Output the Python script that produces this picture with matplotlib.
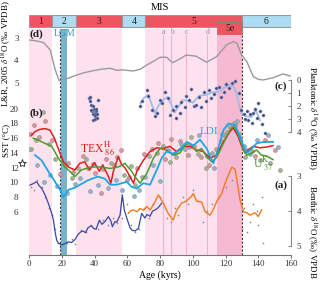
import matplotlib
matplotlib.use("Agg")
import matplotlib.pyplot as plt

plt.rcParams['font.family'] = ['Liberation Serif', 'DejaVu Serif']
plt.rcParams['mathtext.fontset'] = 'stix'

# ---- data ----
mis_labels = ["1", "2", "3", "4", "5", "6"]
mis_start = [0, 14, 29, 57, 71, 130]
mis_end = [14, 29, 57, 71, 130, 160]
substages = ["a", "b", "c", "d"]
substage_age = [82, 87, 96, 109]

# (d) Lisiecki & Raymo 2005 stack
lr_age = [0, 5, 9, 13, 16, 18.5, 20, 24, 29, 34, 39, 44, 49.5, 54, 57.5, 63.5, 68, 72, 76, 80,
          84, 87.7, 92, 96, 102, 108.5, 114.6, 118, 120.7, 124.8, 127, 129.8, 133, 137, 140, 143,
          149, 155, 159.5]
lr_d18o = [3.1, 3.15, 3.22, 3.55, 4.43, 4.92, 4.88, 4.8, 4.66, 4.55, 4.47, 4.4, 4.36, 4.45, 4.43,
           4.48, 4.4, 4.21, 4.05, 3.87, 3.87, 4.11, 3.95, 3.77, 3.82, 4.09, 3.84, 3.55, 3.32, 3.17,
           3.25, 3.77, 4.06, 4.73, 4.85, 4.88, 4.78, 4.61, 4.7]

# (c) planktonic d18O
pl_age = [68, 70, 73, 75, 77, 79, 81, 84.5, 87, 89, 91, 94, 97, 100, 104, 108, 112, 116, 119,
          121.5, 123.5, 125.5, 127, 128.5, 130, 131.5, 133, 136, 138.5, 141]
pl_line = [1.8, 1.4, 1.15, 1.9, 2.55, 2.0, 1.65, 1.3, 1.9, 2.5, 2.1, 1.55, 1.6, 1.75, 1.2, 1.15,
           0.95, 0.9, 0.6, 0.45, 0.4, 0.6, 1.2, 2.05, 2.55, 2.7, 2.8, 2.85, 2.3, 3.1]
pd_age = [36.5, 37, 37.5, 38, 38.5, 39, 39.2, 39.6, 40, 40.2, 40.4, 40.6, 40.8, 41, 41.3, 41.5,
          42, 38.8, 37.8,
          68, 69, 72, 72.5, 75, 77, 78, 80, 81, 83, 85, 86, 88, 89.5, 90, 92, 93, 95, 96, 98, 99,
          101, 102, 104, 105, 107, 108, 110, 111, 113, 114, 116, 117, 119, 120, 122, 124, 126,
          128, 129.5, 131, 132, 133, 134, 135, 136, 137, 138, 139, 140, 141, 142, 143, 144]
pd_val = [1.4, 1.3, 1.6, 1.9, 2.4, 2.6, 3.1, 2.2, 2.5, 3.0, 2.8, 2.7, 2.4, 2.2, 2.9, 2.6, 1.5,
          2.0, 2.3,
          2.0, 1.6, 0.8, 1.2, 2.3, 2.8, 2.5, 1.5, 1.8, 0.9, 1.4, 2.7, 2.3, 2.9, 2.0, 2.5, 1.7,
          2.1, 1.2, 1.5, 0.7, 2.0, 1.9, 1.3, 2.1, 0.9, 1.6, 0.8, 1.4, 1.1, 0.6, 0.5, 1.3, 0.9,
          0.3, 0.6, 0.2, 0.1, 1.0, 2.3, 2.6, 3.0, 2.4, 3.1, 2.6, 3.3, 2.5, 2.2, 2.9, 1.8, 2.4,
          3.4, 2.7, 4.1]

# (b) SST proxies
tex_age = [1.5, 3.7, 6.5, 9.8, 12.8, 15.5, 17.9, 21, 24, 28, 31, 34, 37, 40, 43, 45, 48.5, 50,
           51.5, 54.5, 56.6, 58.6, 61.7, 63.8, 65.8, 69.8, 73.9, 78, 82, 86, 90.2, 94.2, 98.3,
           102.3, 106.4, 110.5, 114.6, 118.7, 120.7, 122.7, 124.8, 127.8, 129.9, 131.9, 135, 137,
           141, 145, 149]
tex_sst = [16.4, 16.9, 17.2, 17.3, 17.1, 16.0, 14.6, 12.8, 12.1, 11.7, 12.6, 12.8, 11.7, 12.7,
           11.5, 12.4, 10.8, 9.9, 11.5, 13.5, 12.4, 12.0, 10.8, 9.9, 11.5, 13.0, 14.2, 14.7, 14.6,
           14.9, 14.2, 14.9, 14.9, 14.4, 14.2, 13.3, 13.7, 15.5, 16.2, 16.9, 17.4, 16.2, 14.9,
           14.0, 14.6, 14.9, 14.7, 14.8, 15.0]
uk_age = [2.6, 6, 9.8, 13.9, 17.9, 22, 25, 28, 32, 38, 44.3, 49.5, 54.5, 58.6, 62.7, 64.7, 67.8,
          71.9, 76, 80, 84, 88, 92.2, 95.3, 98.3, 102.3, 105.4, 108.5, 111.6, 114.6, 118.7,
          122.7, 124.8, 126.8, 128.9, 131, 133, 136, 139, 142, 145, 149]
uk_sst = [16.0, 15.7, 15.3, 14.9, 13.3, 12.1, 11.5, 10.8, 11.7, 12.1, 12.1, 11.9, 12.1, 12.6,
          11.5, 10.8, 9.9, 11.2, 13.3, 14.6, 14.4, 13.7, 14.0, 15.1, 15.3, 14.2, 14.6, 13.5, 12.8,
          13.4, 15.3, 17.1, 17.6, 17.0, 15.8, 14.4, 13.7, 14.0, 14.4, 13.7, 13.6, 13.1]
ldi_age = [3.7, 7.7, 11.8, 15.9, 19, 21, 24, 28, 32, 36, 42, 46.4, 49.5, 53.6, 56.6, 59.7, 62.7,
           65.8, 69.8, 73.9, 78, 81, 84, 88, 92.2, 96.3, 100.4, 104.4, 108.5, 112.6, 115.6,
           118.7, 121.8, 125.8, 128.9, 131, 133, 136, 139, 143, 149]
ldi_sst = [13.7, 13.0, 11.5, 10.1, 9.0, 8.0, 9.0, 9.3, 9.8, 10.3, 10.8, 10.5, 9.7, 9.7, 9.9,
           10.1, 9.4, 9.2, 9.9, 9.7, 11.7, 13.3, 14.2, 13.9, 14.4, 15.5, 15.0, 15.8, 14.6, 12.6,
           14.6, 17.1, 18.0, 17.8, 16.2, 14.9, 14.0, 14.6, 15.3, 15.5, 15.5]

tex_dot_age = [0.5, 3, 6, 10, 14, 19, 24, 27, 33, 36, 40, 44, 47, 52, 56, 60, 66, 70, 75, 79,
               83, 87, 92, 97, 101, 105, 110, 114, 119, 123, 126, 129, 133, 138, 144, 150]
tex_dot = [16.6, 17.8, 16.2, 18.3, 15.8, 11.2, 12.6, 11.4, 13.6, 12.0, 11.3, 8.6, 13.2, 12.4,
           14.4, 10.4, 12.0, 13.8, 14.6, 15.4, 13.2, 15.9, 15.6, 13.7, 15.0, 13.5, 12.4, 14.6,
           16.4, 17.5, 17.8, 16.0, 14.4, 13.6, 15.7, 14.4]
uk_dot_age = [1, 4, 8.5, 12, 16, 22, 26, 30, 35, 39, 45, 50, 54, 58, 62, 65, 69, 73, 78, 82,
              86, 90, 95, 99, 103, 108, 112, 117, 121, 125, 128, 132, 136, 141, 147, 153]
uk_dot = [14.6, 15.8, 19.6, 15.2, 13.2, 12.4, 10.6, 11.9, 13.2, 12.5, 11.8, 12.6, 13.4, 11.0,
          12.2, 9.6, 10.8, 13.6, 14.0, 15.0, 12.8, 13.4, 14.6, 16.2, 13.8, 12.0, 14.0, 15.6,
          16.8, 18.0, 16.6, 13.5, 14.2, 13.0, 12.7, 11.7]
ldi_dot_age = [0, 5, 9, 13, 17, 20, 23, 28, 31, 37, 42, 48, 53, 57, 61, 64, 67, 71, 76, 80,
               85, 89, 93, 98, 104, 109, 113, 118, 122, 127, 131, 135, 139, 146, 152]
ldi_dot = [14.5, 12.4, 10.0, 11.0, 9.5, 7.6, 8.6, 9.8, 10.6, 8.8, 9.6, 9.2, 10.4, 9.0, 10.8,
           8.2, 9.0, 10.8, 12.4, 10.2, 14.4, 14.0, 15.2, 14.8, 16.4, 13.6, 12.0, 16.6, 17.8,
           18.4, 15.0, 13.8, 15.8, 16.4, 14.8]
core_top_age, core_top_sst = [-4.5], [12.7]

# (a) benthic d18O
bb_age = [0.6, 2.5, 4.7, 6.2, 7.7, 9.8, 11.8, 13.9, 14.9, 15.9, 16.9, 17.9, 20, 22, 24, 26, 28,
          30, 31.5, 33, 34.5, 36, 38, 39.5, 41, 43, 44.5, 46.4, 48.5, 50, 50.9, 52.5, 53.6,
          55.6, 57, 58.2, 59.7, 61.7, 63, 64.7, 66.8, 68.8, 70.8, 72, 73.9, 75.5, 77, 79, 81]
bb_d18o = [3.26, 3.22, 3.16, 3.28, 3.35, 3.54, 3.78, 4.07, 4.26, 4.59, 4.83, 4.92, 4.97, 4.93,
           4.88, 4.9, 4.82, 4.67, 4.6, 4.57, 4.62, 4.48, 4.42, 4.5, 4.52, 4.26, 4.38, 4.3, 4.16,
           4.28, 4.45, 4.3, 4.32, 4.12, 3.54, 3.97, 4.2, 4.48, 4.55, 4.57, 4.5, 4.07, 4.2, 4.1,
           4.15, 4.0, 3.97, 3.9, 3.78]
or_age = [60.6, 62, 63.7, 66, 67.8, 70, 71.9, 74, 77, 79, 82, 85, 88, 90, 93, 96, 99, 100.4,
          102.3, 105.4, 107.5, 110.5, 112.6, 114.6, 117.7, 119.7, 121.8, 123.8, 125.8, 127.3,
          128.9, 131, 133, 135, 138, 140, 142]
or_d18o = [4.07, 4.0, 3.97, 4.02, 3.93, 3.98, 3.87, 3.97, 3.73, 3.54, 3.78, 4.07, 4.26, 4.0,
           3.78, 3.72, 3.59, 3.5, 3.72, 3.74, 4.02, 4.12, 3.95, 3.73, 3.5, 3.21, 2.97, 2.75, 2.8,
           3.21, 3.69, 4.02, 4.05, 4.12, 4.05, 4.16, 3.97]
bd_age = [1, 3, 5, 8, 10, 12, 14, 16, 18, 19.5, 21, 23, 26, 28, 32, 35, 38, 42, 45, 48, 51, 54,
          57, 60, 62, 65, 67, 70, 73, 76, 80, 84, 87, 89, 91, 94, 97, 100, 103, 106, 109, 112,
          116, 120, 124, 130, 131, 133, 135, 137, 139, 140, 142, 143]
bd_val = [3.3, 3.4, 3.1, 3.3, 3.6, 3.9, 4.1, 4.5, 4.9, 5.05, 4.95, 4.9, 4.8, 4.95, 4.55, 4.6,
          4.4, 4.5, 4.25, 4.4, 4.2, 4.35, 4.2, 3.8, 4.4, 4.6, 4.5, 3.9, 4.2, 3.8, 3.6, 4.2, 4.3,
          3.9, 4.1, 3.6, 3.8, 3.4, 3.7, 4.3, 4.0, 3.8, 3.6, 3.3, 3.1, 4.5, 3.9, 4.6, 4.3, 3.8,
          4.0, 4.4, 3.6, 4.9]

# ---- layout (pixels of the 320x283 output) ----
W, H = 320, 283
X0, X1 = 29, 291
Y0, Y1 = 29, 255

fig = plt.figure(figsize=(3.2, 2.83), dpi=100)


def px_axes(y_top, y_bot):
    return fig.add_axes([X0 / W, 1 - y_bot / H, (X1 - X0) / W, (y_bot - y_top) / H])


def ftext(px, py, s, **kw):
    return fig.text(px / W, 1 - py / H, s, **kw)


def panel(va, pa, vb, pb):
    """Transparent overlay axes where value va sits at pixel row pa and vb at pb."""
    ax = px_axes(Y0, Y1)
    k = (vb - va) / (pb - pa)
    ax.set_ylim(va + (Y1 - pa) * k, va + (Y0 - pa) * k)
    ax.set_xlim(0, 160)
    ax.patch.set_visible(False)
    for s in ax.spines.values():
        s.set_visible(False)
    ax.set_xticks([])
    ax.tick_params(labelsize=6.5, colors="#444", labelcolor="#333")
    return ax


PINK, PINK_DARK = "#fde2ed", "#f6b9d2"
RED_BOX, BLUE_BOX = "#ef5560", "#aedcf3"

# background axes
ax0 = px_axes(Y0, Y1)
ax0.set_xlim(0, 160)
ax0.set_ylim(0, 1)
for s in ["top", "left", "right"]:
    ax0.spines[s].set_visible(False)
ax0.spines["bottom"].set_color("#777")
ax0.set_yticks([])
ax0.set_xticks(range(0, 161, 20))
ax0.tick_params(axis="x", labelsize=6.5, length=2, pad=1.5, colors="#777", labelcolor="#333")
ax0.set_xlabel("Age (kyrs)", fontsize=7, labelpad=2)

top_5e = (Y1 - 35) / (Y1 - Y0)
for lab, a, b in zip(mis_labels, mis_start, mis_end):
    if lab in ("1", "3", "5"):
        ax0.axvspan(a, b, color=PINK, lw=0)
ax0.axvspan(115, 130, ymax=top_5e, color=PINK_DARK, lw=0)
for lab, a in zip(substages, substage_age):
    ax0.axvline(a, ymax=top_5e, color="#f3a7c6", lw=0.6)
    ax0.text(a, 1 - 3 / (Y1 - Y0), lab, transform=ax0.get_xaxis_transform(), ha="center",
             va="center", fontsize=5.5, color="#9a8a90")
ax0.axvspan(19.5, 23, color="#78b3cb", lw=0)
ax0.axvline(19, color="#333", lw=0.8, ls=(0, (2, 1.5)))
ax0.axvline(130, ymax=(Y1 - 27) / (Y1 - Y0), color="#333", lw=0.8, ls=(0, (2, 1.5)),
            clip_on=False)
ax0.text(21.7, 1 - 5 / (Y1 - Y0), "LGM", transform=ax0.get_xaxis_transform(), ha="center",
         va="center", fontsize=7, color="#3d93c4")

# MIS bar
axm = fig.add_axes([X0 / W, 1 - 35.2 / H, (X1 - X0) / W, 20.5 / H])
axm.set_xlim(0, 160)
axm.set_ylim(20.5, 0)
axm.axis("off")
for lab, a, b in zip(mis_labels, mis_start, mis_end):
    col = RED_BOX if lab in ("1", "3", "5") else BLUE_BOX
    axm.bar(a, 12.6, width=b - a, bottom=0, align="edge", color=col, edgecolor="#999", lw=0.8)
    axm.text((a + b) / 2, 6.5, lab, ha="center", va="center", fontsize=7, color="#222")
axm.bar(115, 12.8, width=15, bottom=7.4, align="edge", color=RED_BOX, edgecolor="#888", lw=0.8)
axm.text(122.5, 14, "5e", ha="center", va="center", fontsize=7, color="#222")
ftext(160, 7, "MIS", ha="center", va="center", fontsize=7.5)

# (d) L&R stack
ax_d = panel(3, 37.7, 5, 82.7)
ax_d.plot(lr_age, lr_d18o, color="#9a9a9a", lw=1.0)
ax_d.set_yticks([3, 4, 5])
ax_d.tick_params(axis="y", length=0, pad=7.5)

# (c) planktonic
ax_c = panel(0, 80, 4, 132)
ax_c.plot(pl_age, pl_line, color="#a3bbe6", lw=1.3, zorder=2)
ax_c.scatter(pd_age, pd_val, s=5, c="#3a4680", edgecolors="#8a98c0", linewidths=0.4, zorder=3)
ax_c.yaxis.tick_right()
ax_c.set_yticks([0, 1, 2, 3, 4])
ax_c.spines["right"].set_visible(True)
ax_c.spines["right"].set_bounds(0, 4)
ax_c.spines["right"].set_color("#888")
ax_c.tick_params(axis="y", direction="in", length=2, pad=4, colors="#888", labelcolor="#333")

# (b) SST
ax_b = panel(20, 108.7, 6, 212)
dot_fc = "#b8a6ae"
ax_b.scatter(tex_dot_age, tex_dot, s=8, c=dot_fc, edgecolors="#e0605c", linewidths=0.4, zorder=2)
ax_b.scatter(uk_dot_age, uk_dot, s=8, c=dot_fc, edgecolors="#6aa455", linewidths=0.4, zorder=2)
ax_b.scatter(ldi_dot_age, ldi_dot, s=8, c=dot_fc, edgecolors="#45a8d8", linewidths=0.4, zorder=2)
ax_b.plot(tex_age, tex_sst, color="#e8191f", lw=1.1, zorder=3)
ax_b.plot(uk_age, uk_sst, color="#4e9a2c", lw=1.1, zorder=3)
ax_b.plot(ldi_age, ldi_sst, color="#1ca6e3", lw=1.3, zorder=3)
ax_b.plot(core_top_age, core_top_sst, marker="*", ms=6, mfc="white", mec="#222", mew=0.6,
          ls="none", clip_on=False)
ax_b.set_yticks(range(6, 21, 2))
ax_b.tick_params(axis="y", length=0, pad=7.5)

# (a) benthic
ax_a = panel(3, 176, 5, 246)
ax_a.scatter(bd_age, bd_val, s=1.5, c="#8a8a8a", linewidths=0, zorder=2)
ax_a.plot(bb_age, bb_d18o, color="#3a47a3", lw=0.9, zorder=3)
ax_a.plot(or_age, or_d18o, color="#f07a1e", lw=1.0, zorder=3)
ax_a.yaxis.tick_right()
ax_a.set_yticks([3, 4, 5])
ax_a.spines["right"].set_visible(True)
ax_a.spines["right"].set_bounds(3, 5)
ax_a.spines["right"].set_color("#888")
ax_a.tick_params(axis="y", direction="in", length=2, pad=4, colors="#888", labelcolor="#333")

# panel letters and proxy labels
ftext(36, 34, "(d)", ha="center", va="center", fontsize=8, fontweight="bold", color="#222")
ftext(36, 113, "(b)", ha="center", va="center", fontsize=8, fontweight="bold", color="#222")
ftext(281, 86, "(c)", ha="center", va="center", fontsize=8, fontweight="bold", color="#222")
ftext(281, 185, "(a)", ha="center", va="center", fontsize=8, fontweight="bold", color="#222")
ftext(97, 149, r"TEX$^{\rm H}_{\ 86}$", ha="center", va="center", fontsize=8.5, color="#e8191f")
ftext(209, 132, "LDI", ha="center", va="center", fontsize=8, color="#1ca6e3")
ftext(263, 163, r"U$^{\rm K'}_{\ 37}$", ha="center", va="center", fontsize=8.5, color="#4e9a2c")

# axis titles
ftext(6, 54, r"L&R, 2005 $\delta^{18}$O (‰ VPDB)", rotation=90, ha="center", va="center",
      fontsize=6.5)
ftext(6, 140, "SST (°C)", rotation=90, ha="center", va="center", fontsize=6.5)
ftext(312, 118, r"Planktonic $\delta^{18}$O (‰ VPDB)", rotation=270, ha="center", va="center",
      fontsize=6.5)
ftext(312, 232, r"Benthic $\delta^{18}$O (‰) VPDB", rotation=270, ha="center", va="center",
      fontsize=6.5)

fig.savefig("out.png", dpi=100)
